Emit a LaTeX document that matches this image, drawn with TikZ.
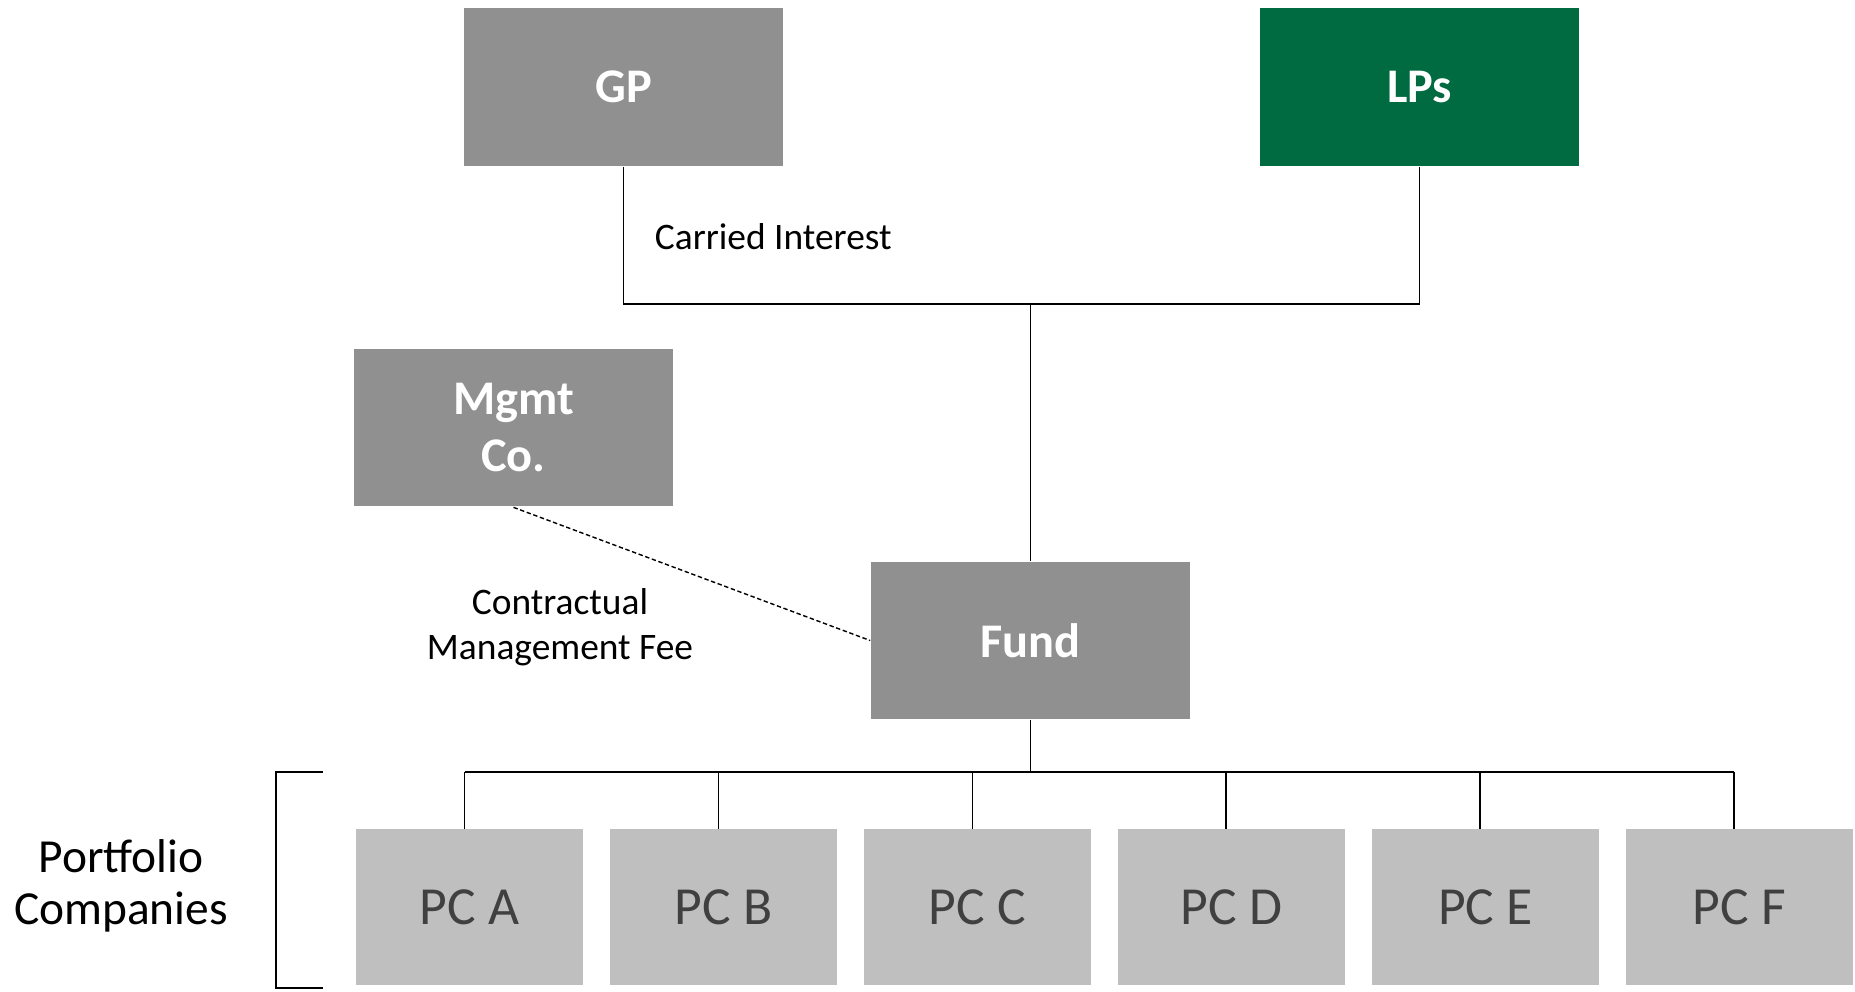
\documentclass[tikz,border=0pt]{standalone}
\usepackage{fontspec}
\setmainfont{Carlito}
\usetikzlibrary{positioning}

\definecolor{boxgray}{RGB}{144,144,144}
\definecolor{lpgreen}{RGB}{0,106,64}
\definecolor{pcgray}{RGB}{191,191,191}
\definecolor{pctext}{RGB}{64,64,64}

\begin{document}
\begin{tikzpicture}[
  x=0.02cm, y=-0.02cm,
  line width=1pt,
  entitybox/.style={fill=boxgray, minimum width=6.38cm, minimum height=3.16cm, inner sep=0pt,
    text=white, font=\fontsize{27.5}{32}\selectfont\bfseries, align=center},
  pcbox/.style={fill=pcgray, minimum width=4.54cm, minimum height=3.12cm, inner sep=0pt, outer sep=0pt,
    text=pctext, font=\fontsize{30.5}{36}\selectfont},
  flowlabel/.style={font=\fontsize{21.3}{25.5}\selectfont, align=center, inner sep=0pt}
]
\useasboundingbox (0,0) rectangle (1855,991);

\node[entitybox] (gp) at (623.5,87) {GP};
\node[entitybox, fill=lpgreen] (lps) at (1419.5,87) {LPs};
\node[entitybox] (mgmt) at (513.5,427.5) {Mgmt\\Co.};
\node[entitybox] (fund) at (1030.5,640.5) {Fund};

\node[pcbox] (pca) at (469.5,907) {PC A};
\node[pcbox, right=0.54cm of pca] (pcb) {PC B};
\node[pcbox, right=0.54cm of pcb] (pcc) {PC C};
\node[pcbox, right=0.54cm of pcc] (pcd) {PC D};
\node[pcbox, right=0.54cm of pcd] (pce) {PC E};
\node[pcbox, right=0.54cm of pce] (pcf) {PC F};

\coordinate (top) at (fund.north |- 0,304);
\coordinate (bus) at (fund.south |- 0,772);

\draw (gp.south) |- (top) -| (lps.south);
\draw (top) -- (fund.north);
\draw (fund.south) -- (bus);
\draw ([xshift=-0.1cm]pca.north |- bus) -- ([xshift=-0.1cm]pcf.north |- bus);
\foreach \pc in {pca,pcb,pcc,pcd,pce,pcf}
  \draw ([xshift=-0.1cm]\pc.north) -- ([xshift=-0.1cm]\pc.north |- bus);

\draw[dashed, line width=0.8pt, dash pattern=on 2.5pt off 1.5pt] (mgmt.south) -- (fund.west);

\node[flowlabel, anchor=west] (carry) at (654,237) {Carried Interest};
\node[flowlabel] (fee) at (560,627) {Contractual\\Management Fee};

% portfolio bracket
\coordinate (brtop) at (323,772);
\coordinate (brbot) at (323,988);
\draw (brtop) -- (276,772) -- (276,988) -- (brbot);
\node[font=\fontsize{27}{29.5}\selectfont, align=center] (portfolio) at (121,886) {Portfolio\\Companies};

\end{tikzpicture}
\end{document}
